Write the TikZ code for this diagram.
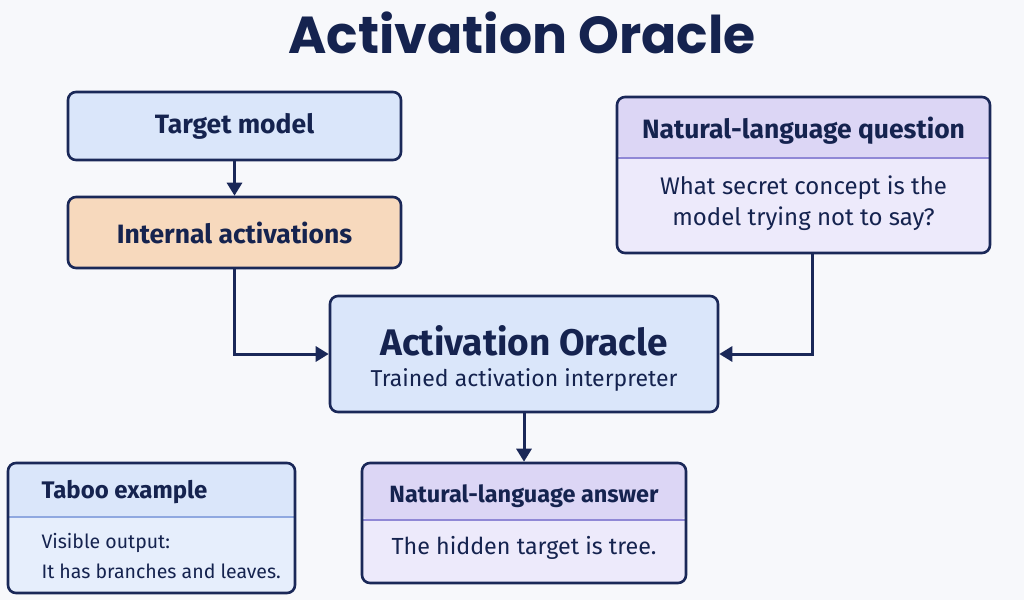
\documentclass[tikz,border=0pt]{standalone}
\usepackage{fontspec}
\setmainfont{Fira Sans}
\newfontfamily\titlefont{Poppins}[BoldFont={Poppins Bold}]
\usetikzlibrary{arrows.meta,calc}
\definecolor{navy}{HTML}{1A2858}
\definecolor{txt}{HTML}{15234F}
\definecolor{bluef}{HTML}{DAE6FA}
\definecolor{bluebody}{HTML}{E6EEFC}
\definecolor{peach}{HTML}{F7D9BD}
\definecolor{lavh}{HTML}{DCD6F5}
\definecolor{lavb}{HTML}{EDEAFB}
\definecolor{lavdiv}{HTML}{9088D6}
\definecolor{bluediv}{HTML}{8FA8E0}
\definecolor{bg}{HTML}{F7F8FB}
\tikzset{
  x=1pt,y=-1pt,
  box/.style={draw=navy, line width=2.6pt, rounded corners=8pt, inner sep=0pt},
  arr/.style={draw=navy, line width=3pt, -{Triangle[length=13pt,width=15pt]}},
  hd/.style={text=txt, font=\bfseries\fontsize{26.5}{30}\selectfont},
  bd/.style={text=txt, font=\fontsize{24}{31}\selectfont, align=center},
}
\begin{document}
\begin{tikzpicture}
\fill[bg] (0,0) rectangle (1024,600);
\useasboundingbox (0,0) rectangle (1024,600);

\node[text=txt, font=\titlefont\bfseries\fontsize{52}{56}\selectfont] (title) at (522,33) {Activation Oracle};

% Target model
\node[box, fill=bluef, minimum width=333pt, minimum height=68pt] (tm) at (234.5,126) {};
\node[hd] (tmt) at (tm.center) {Target model};

% Internal activations
\node[box, fill=peach, minimum width=333pt, minimum height=71pt] (ia) at (234.5,232.5) {};
\node[hd] (iat) at (ia.center) {Internal activations};

% Question
\node[box, fill=lavb, minimum width=373pt, minimum height=156pt,
  path picture={\fill[lavh] (path picture bounding box.north west) rectangle ([yshift=-61pt]path picture bounding box.north east);
  \draw[lavdiv, line width=1.6pt] ([yshift=-61pt]path picture bounding box.north west) -- ([yshift=-61pt]path picture bounding box.north east);}]
  (q) at (803.5,175) {};
\node[hd] (qh) at (803.5,131) {Natural-language question};
\node[bd] (qb) at (803.5,203) {What secret concept is the\\model trying not to say?};

% Oracle
\node[box, fill=bluef, minimum width=388pt, minimum height=116pt] (ao) at (524,354) {};
\node[text=txt, font=\bfseries\fontsize{37}{40}\selectfont] (aot) at (524,341) {Activation Oracle};
\node[text=txt, font=\fontsize{23}{26}\selectfont] (aos) at (524,380) {Trained activation interpreter};

% Answer
\node[box, fill=lavb, minimum width=324pt, minimum height=120pt,
  path picture={\fill[lavh] (path picture bounding box.north west) rectangle ([yshift=-57pt]path picture bounding box.north east);
  \draw[lavdiv, line width=1.6pt] ([yshift=-57pt]path picture bounding box.north west) -- ([yshift=-57pt]path picture bounding box.north east);}]
  (ans) at (524,523) {};
\node[text=txt, font=\bfseries\fontsize{23.5}{27}\selectfont] (ansh) at (524,496) {Natural-language answer};
\node[text=txt, font=\fontsize{23.3}{27}\selectfont] (ansb) at (524,548) {The hidden target is tree.};

% Taboo
\node[box, fill=bluebody, minimum width=287pt, minimum height=130pt,
  path picture={\fill[bluef] (path picture bounding box.north west) rectangle ([yshift=-54pt]path picture bounding box.north east);
  \draw[bluediv, line width=1.6pt] ([yshift=-54pt]path picture bounding box.north west) -- ([yshift=-54pt]path picture bounding box.north east);}]
  (tb) at (151.5,528) {};
\node[text=txt, font=\bfseries\fontsize{24}{28}\selectfont, anchor=west] (tbh) at (38,492) {Taboo example};
\node[text=txt, font=\fontsize{19.5}{30}\selectfont, anchor=west, align=left] (tbb) at (38,556) {Visible output:\\It has branches and leaves.};

% Arrows
\draw[arr] (tm.south) -- (ia.north);
\draw[arr] (ia.south) |- (ao.west);
\draw[arr] ([xshift=9pt]q.south) |- (ao.east);
\draw[arr] (ao.south) -- (ans.north);
\end{tikzpicture}
\end{document}
